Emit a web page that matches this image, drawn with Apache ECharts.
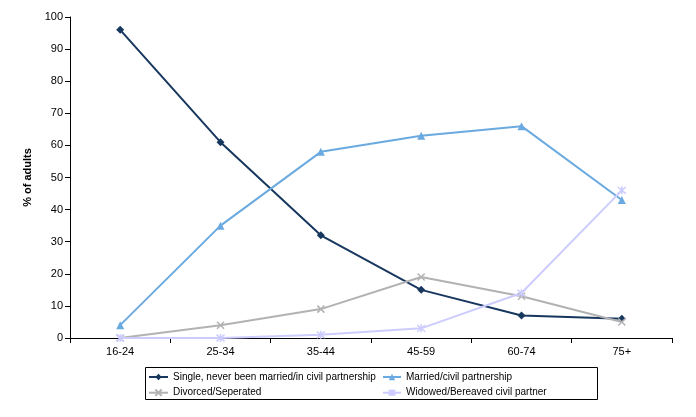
<!DOCTYPE html>
<html><head><meta charset="utf-8">
<script src="https://cdn.jsdelivr.net/npm/echarts@6/dist/echarts.min.js"></script>
<style>html,body{margin:0;padding:0;background:#fff}#c{width:696px;height:417px}</style>
</head><body><div id="c"></div>
<script>
var categories = ['16-24','25-34','35-44','45-59','60-74','75+'];
var single = [96, 61, 32, 15, 7, 6];
var married = [4, 35, 58, 63, 66, 43];
var divorced = [0, 4, 9, 19, 13, 5];
var widowed = [0, 0, 1, 3, 14, 46];
var yTicks = [0,10,20,30,40,50,60,70,80,90,100];

var F = 'Liberation Sans, Arial, sans-serif';
var xPath = 'path://M0,0L10,10M10,0L0,10';
var starPath = 'path://M0,0L10,10M10,0L0,10M5,-1L5,11';

function ser(name, data, color, symbol, size, stroke) {
  return {
    name: name, type: 'line', data: data, symbol: symbol, symbolSize: size,
    lineStyle: {color: color, width: 2},
    itemStyle: stroke ? {color: 'none', borderColor: color, borderWidth: 1.5} : {color: color},
    emphasis: {disabled: true}, animation: false
  };
}

var chart = echarts.init(document.getElementById('c'));
chart.setOption({
  animation: false,
  grid: {left: 70, right: 24, top: 17, bottom: 79},
  xAxis: {
    type: 'category', data: categories, boundaryGap: true,
    axisLine: {lineStyle: {color: '#000', width: 1}},
    axisTick: {show: true, length: 5, lineStyle: {color: '#000'}},
    axisLabel: {color: '#000', fontFamily: F, fontSize: 11, margin: 8}
  },
  yAxis: {
    type: 'value', min: yTicks[0], max: yTicks[yTicks.length-1], interval: 10,
    name: '% of adults', nameLocation: 'middle', nameGap: 35, nameRotate: 90,
    nameTextStyle: {fontFamily: F, fontSize: 11, fontWeight: 'bold', color: '#000'},
    axisLine: {show: true, lineStyle: {color: '#000', width: 1}},
    axisTick: {show: true, length: 5, lineStyle: {color: '#000'}},
    axisLabel: {color: '#000', fontFamily: F, fontSize: 11, margin: 7},
    splitLine: {show: false}
  },
  legend: [{
    orient: 'vertical', left: 143, top: 367, itemWidth: 19, itemHeight: 8, itemGap: 5,
    data: ['Single, never been married/in civil partnership', 'Divorced/Seperated'],
    textStyle: {fontFamily: F, fontSize: 10, color: '#000'}, selectedMode: false
  }, {
    orient: 'vertical', left: 377, top: 367, itemWidth: 18, itemHeight: 8, itemGap: 5,
    data: ['Married/civil partnership', 'Widowed/Bereaved civil partner'],
    textStyle: {fontFamily: F, fontSize: 10, color: '#000'}, selectedMode: false
  }],
  graphic: [{
    type: 'rect', shape: {x: 145.5, y: 367.5, width: 452, height: 32},
    style: {fill: 'none', stroke: '#000', lineWidth: 1}, silent: true
  }],
  series: [
    ser('Single, never been married/in civil partnership', single, '#17375E', 'diamond', 8, false),
    ser('Married/civil partnership', married, '#6AAAE0', 'triangle', 8, false),
    ser('Divorced/Seperated', divorced, '#B2B2B2', xPath, 7, true),
    ser('Widowed/Bereaved civil partner', widowed, '#CCCCFF', starPath, 8, true)
  ]
});
</script></body></html>
